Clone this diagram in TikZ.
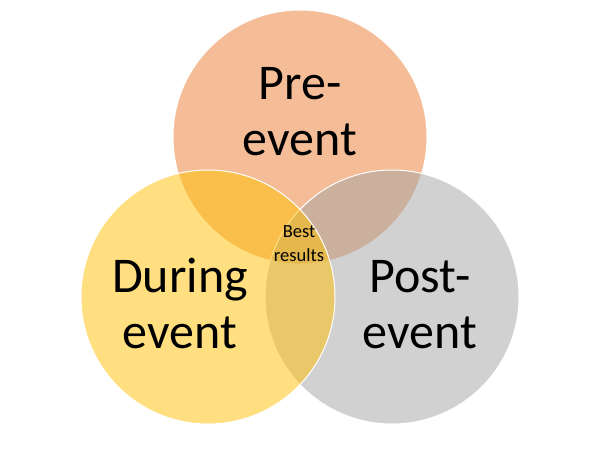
\documentclass[tikz,border=0pt]{standalone}
\usepackage{fontspec}
\setmainfont{Carlito}
\definecolor{accorange}{HTML}{ED7D31}
\definecolor{accgray}{HTML}{A5A5A5}
\definecolor{accgold}{HTML}{FFC000}
\tikzset{
  venn/.style={draw=white, line width=1pt, fill opacity=0.5},
  bigtext/.style={align=center, font=\fontsize{50}{56}\selectfont, text=black, inner sep=0pt},
  smalltext/.style={align=center, font=\fontsize{18.5}{24}\selectfont, text=black, inner sep=0pt}
}
\begin{document}
\begin{tikzpicture}[x=1pt,y=-1pt]
\useasboundingbox (0,0) rectangle (600,448);
\fill[white] (0,0) rectangle (600,448);
\draw[venn, fill=accorange] (300,137) circle[radius=127];
\draw[venn, fill=accgray] (392,297) circle[radius=127];
\draw[venn, fill=accgold] (208,297) circle[radius=127];
\node[bigtext, anchor=base] (pre1) at (300,99) {Pre-};
\node[bigtext, anchor=base] (pre2) at (300,155) {event};
\node[bigtext, anchor=base] (dur1) at (180,292) {During};
\node[bigtext, anchor=base] (dur2) at (180,348) {event};
\node[bigtext, anchor=base] (post1) at (420,292) {Post-};
\node[bigtext, anchor=base] (post2) at (420,348) {event};
\node[smalltext, anchor=base] (best1) at (299,237) {Best};
\node[smalltext, anchor=base] (best2) at (299,261) {results};
\end{tikzpicture}
\end{document}
